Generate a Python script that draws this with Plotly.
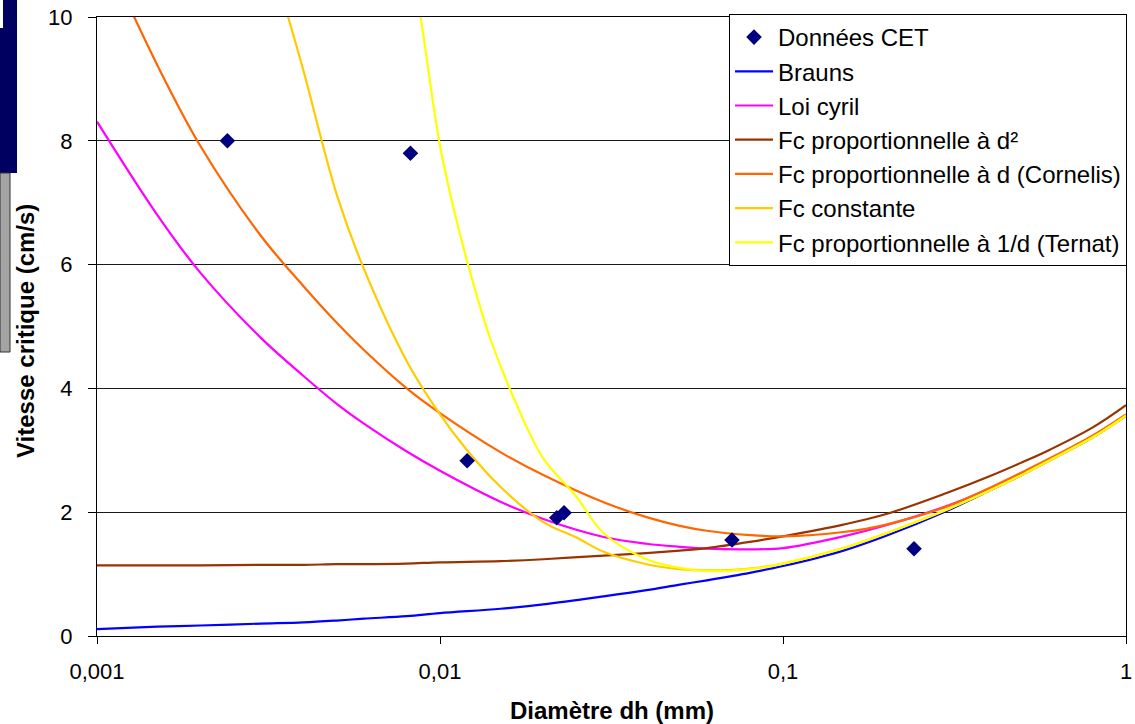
import plotly.graph_objects as go

# ---------------- data ----------------
x_cet = [0.0024, 0.0082, 0.0120, 0.0219, 0.0230, 0.0710, 0.241]
y_cet = [8.0, 7.8, 2.83, 1.91, 1.99, 1.55, 1.41]

x_d = [0.001, 0.0015, 0.002, 0.003, 0.004, 0.005, 0.006, 0.008, 0.01, 0.015, 0.02,
       0.03, 0.04, 0.05, 0.06, 0.08, 0.1, 0.15, 0.2, 0.3, 0.4, 0.5, 0.6, 0.8, 1.0]

brauns = [0.11, 0.15, 0.17, 0.20, 0.22, 0.25, 0.28, 0.32, 0.37, 0.44, 0.51,
          0.64, 0.74, 0.83, 0.90, 1.02, 1.13, 1.38, 1.62, 2.02, 2.35, 2.61, 2.84, 3.21, 3.56]

loi_cyril = [8.31, 6.80, 5.87, 4.82, 4.20, 3.75, 3.43, 2.98, 2.67, 2.17, 1.89,
             1.60, 1.49, 1.44, 1.41, 1.40, 1.42, 1.61, 1.79, 2.10, 2.38, 2.63, 2.85, 3.22, 3.56]

fc_d2 = [1.14, 1.14, 1.14, 1.15, 1.15, 1.16, 1.16, 1.17, 1.19, 1.21, 1.24,
         1.30, 1.34, 1.38, 1.42, 1.52, 1.61, 1.80, 1.97, 2.31, 2.58, 2.81, 3.01, 3.37, 3.73]

cornelis = [11.3, 9.22, 7.92, 6.47, 5.65, 5.06, 4.62, 4.00, 3.60, 2.97, 2.60,
            2.16, 1.92, 1.78, 1.70, 1.63, 1.61, 1.68, 1.80, 2.09, 2.39, 2.65, 2.87, 3.24, 3.58]

x_const = [0.0035, 0.004, 0.005, 0.006, 0.008, 0.01, 0.012, 0.015, 0.02, 0.025, 0.03,
           0.04, 0.05, 0.06, 0.08, 0.1, 0.15, 0.2, 0.3, 0.4, 0.5, 0.6, 0.8, 1.0]
fc_const = [10.25, 9.13, 7.13, 5.93, 4.44, 3.58, 3.00, 2.41, 1.84, 1.59, 1.36,
            1.16, 1.08, 1.06, 1.09, 1.17, 1.42, 1.66, 2.04, 2.35, 2.61, 2.84, 3.21, 3.56]

x_ternat = [0.0086, 0.009, 0.01, 0.011, 0.012, 0.014, 0.017, 0.02, 0.025, 0.03,
            0.04, 0.05, 0.06, 0.08, 0.1, 0.15, 0.2, 0.3, 0.4, 0.5, 0.6, 0.8, 1.0]
ternat = [10.35, 9.60, 7.92, 6.87, 6.05, 4.81, 3.65, 2.87, 2.25, 1.66,
          1.24, 1.10, 1.05, 1.08, 1.17, 1.42, 1.66, 2.04, 2.35, 2.61, 2.84, 3.21, 3.56]

x_tickvals = [0.001, 0.01, 0.1, 1]
x_ticktext = ["0,001", "0,01", "0,1", "1"]
y_tickvals = [0, 2, 4, 6, 8, 10]

# ---------------- figure ----------------
W, H = 1135, 724
L, R, T, B = 97, 9, 17, 88
FONT = "Arial, Liberation Sans, sans-serif"


def px2paper_x(px):
    return (px - L) / (W - L - R)


def px2paper_y(py):
    return (H - B - py) / (H - T - B)


fig = go.Figure()
lines = [
    (x_d, brauns, "Brauns", "#0000FF", "b"),
    (x_d, loi_cyril, "Loi cyril", "#FF00FF", "c"),
    (x_d, fc_d2, "Fc proportionnelle à d²", "#993300", "d"),
    (x_d, cornelis, "Fc proportionnelle à d (Cornelis)", "#FF6600", "e"),
    (x_const, fc_const, "Fc constante", "#FFCC00", "f"),
    (x_ternat, ternat, "Fc proportionnelle à 1/d (Ternat)", "#FFFF00", "g"),
]
for i, (xs, ys, nm, col, grp) in enumerate(lines):
    fig.add_trace(go.Scatter(x=xs, y=ys, mode="lines", name=nm,
                             line=dict(color=col, width=2.2, shape="spline", smoothing=1.0),
                             legendgroup=grp, legendrank=10 + i))
fig.add_trace(go.Scatter(x=x_cet, y=y_cet, mode="markers", name="Données CET",
                         marker=dict(symbol="diamond", size=12, color="#000080"),
                         legendgroup="a", legendrank=1))

shapes = [
    dict(type="rect", xref="paper", yref="paper",
         x0=px2paper_x(0), x1=px2paper_x(17), y0=px2paper_y(173), y1=px2paper_y(0),
         fillcolor="#000060", line=dict(width=0), layer="above"),
    dict(type="rect", xref="paper", yref="paper",
         x0=px2paper_x(0), x1=px2paper_x(3), y0=px2paper_y(28), y1=px2paper_y(0),
         fillcolor="#FFFFFF", line=dict(width=0), layer="above"),
    dict(type="rect", xref="paper", yref="paper",
         x0=px2paper_x(0), x1=px2paper_x(10), y0=px2paper_y(352), y1=px2paper_y(173),
         fillcolor="#A4A4A4", line=dict(color="#333333", width=1), layer="above"),
]

fig.update_layout(
    width=W, height=H,
    margin=dict(l=L, r=R, t=T, b=B, autoexpand=False),
    paper_bgcolor="white", plot_bgcolor="white",
    font=dict(family=FONT, size=22, color="black"),
    showlegend=True,
    legend=dict(x=px2paper_x(729), y=px2paper_y(14), xanchor="left", yanchor="top",
                bgcolor="white", bordercolor="black", borderwidth=1,
                font=dict(family=FONT, size=24, color="black"),
                traceorder="grouped", tracegroupgap=0, itemwidth=38),
    shapes=shapes,
    annotations=[
        dict(text="<b>Diamètre dh (mm)</b>", xref="paper", yref="paper",
             x=0.5, y=px2paper_y(710), xanchor="center", yanchor="middle",
             showarrow=False, font=dict(family=FONT, size=24, color="black")),
        dict(text="<b>Vitesse critique (cm/s)</b>", xref="paper", yref="paper",
             x=px2paper_x(25), y=px2paper_y(331), xanchor="center", yanchor="middle",
             textangle=-90, showarrow=False, font=dict(family=FONT, size=24, color="black")),
    ],
)

fig.update_xaxes(type="log", range=[-3, 0], tickvals=x_tickvals, ticktext=x_ticktext,
                 showgrid=False, showline=True, linecolor="black", linewidth=1,
                 mirror=True, ticks="outside", ticklen=7, tickcolor="black",
                 ticklabelstandoff=9, zeroline=False, automargin=False,
                 tickfont=dict(family=FONT, size=22))
fig.update_yaxes(range=[0, 10], tickvals=y_tickvals, showgrid=True, gridcolor="#1a1a1a",
                 gridwidth=1, showline=True, linecolor="black", linewidth=1,
                 mirror=True, ticks="outside", ticklen=8, tickcolor="black",
                 ticklabelstandoff=11, zeroline=False, automargin=False,
                 tickfont=dict(family=FONT, size=22))

fig.write_html("out.html")
